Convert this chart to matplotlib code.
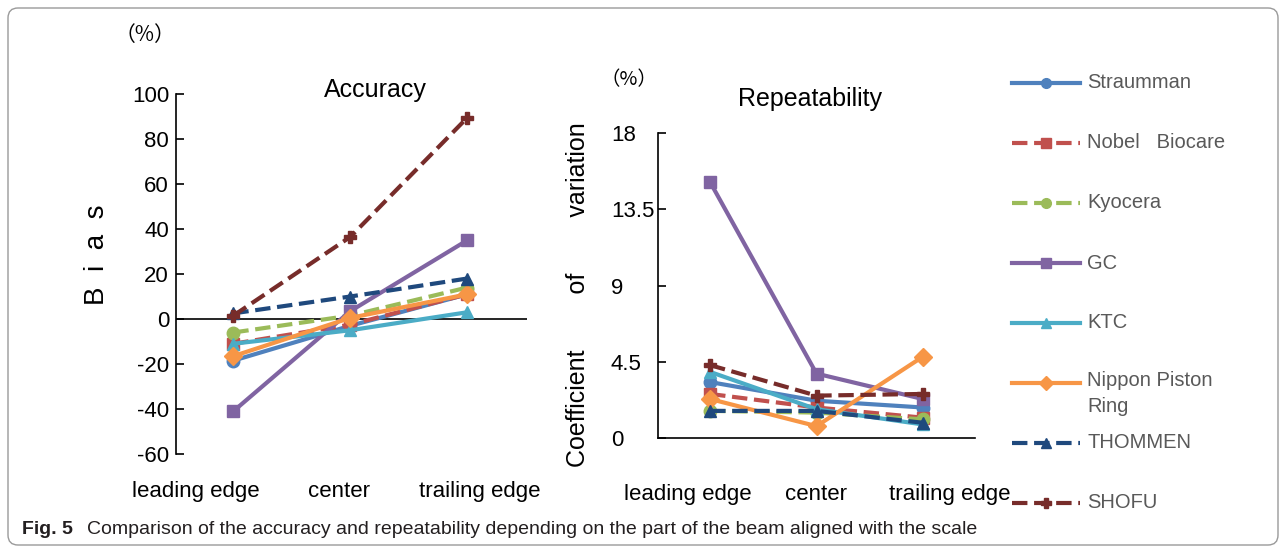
import matplotlib.pyplot as plt
from matplotlib.lines import Line2D
from matplotlib.patches import FancyBboxPatch
from matplotlib.transforms import blended_transform_factory

plt.rcParams['font.family'] = ['Liberation Sans', 'DejaVu Sans']
plt.rcParams['axes.unicode_minus'] = False

# data
positions = ['leading edge', 'center', 'trailing edge']
makers = ['Straumman', 'Nobel   Biocare', 'Kyocera', 'GC', 'KTC',
          'Nippon Piston\nRing', 'THOMMEN', 'SHOFU']

# bias (%) at leading edge / center / trailing edge
accuracy_bias = [
    [-18.5, -3, 11],    # Straumman
    [-11, -2.5, 11],    # Nobel Biocare
    [-6, 1.5, 14],      # Kyocera
    [-41, 3.5, 35],     # GC
    [-11, -5, 3],       # KTC
    [-16.5, 0.5, 11],   # Nippon Piston Ring
    [2.5, 10, 18],      # THOMMEN
    [1.5, 36.5, 89.5],  # SHOFU
]

# coefficient of variation (%)
repeat_cv = [
    [3.3, 2.2, 1.8],    # Straumman
    [2.6, 1.8, 1.2],    # Nobel Biocare
    [1.6, 1.5, 1.1],    # Kyocera
    [15.1, 3.8, 2.3],   # GC
    [3.9, 1.7, 0.8],    # KTC
    [2.3, 0.7, 4.8],    # Nippon Piston Ring
    [1.6, 1.6, 0.9],    # THOMMEN
    [4.3, 2.5, 2.6],    # SHOFU
]

colors = ['#4f81bd', '#c0504d', '#9bbb59', '#8064a2', '#4bacc6',
          '#f79646', '#1f497d', '#772c2a']
markers = ['o', 's', 'o', 's', '^', 'D', '^', 'P']
styles = ['-', '--', '--', '-', '-', '-', '--', '--']

W, H = 1285, 550
fig = plt.figure(figsize=(W / 100, H / 100), dpi=100)

x = [0, 1, 2]

# ---- Accuracy ----
ax1 = fig.add_axes([176 / W, 1 - 454 / H, (527 - 176) / W, (454 - 94) / H])
for i in range(len(makers)):
    ax1.plot(x, accuracy_bias[i], color=colors[i], marker=markers[i],
             ls=styles[i], lw=3, ms=9, zorder=3)
ax1.axhline(0, color='black', lw=1.2, zorder=1)
ax1.set_xlim(-0.49, 2.51)
ax1.set_ylim(-60, 100)
ax1.set_yticks(range(-60, 101, 20))
ax1.set_xticks([])
for s in ['top', 'right', 'bottom']:
    ax1.spines[s].set_visible(False)
ax1.spines['left'].set_linewidth(1.2)
ax1.tick_params(axis='y', direction='in', length=6, width=1.2, labelsize=16, pad=5)
tr1 = blended_transform_factory(ax1.transData, ax1.transAxes)
for xp, lab in zip([-0.32, 0.90, 2.11], positions):
    ax1.text(xp, -0.105, lab, transform=tr1, ha='center', va='center', fontsize=16)

fig.text(375 / W, 1 - 90 / H, 'Accuracy', ha='center', va='center', fontsize=18)
fig.text(97 / W, 1 - 255 / H, 'B  i  a  s', rotation=90, ha='center', va='center',
         fontsize=20)
fig.text(145 / W, 1 - 35 / H, '（%）', ha='center', va='center', fontsize=15,
         family=['Noto Sans CJK JP', 'DejaVu Sans'])

# ---- Repeatability ----
ax2 = fig.add_axes([658 / W, 1 - 438 / H, (975 - 658) / W, (438 - 133) / H])
for i in range(len(makers)):
    ax2.plot(x, repeat_cv[i], color=colors[i], marker=markers[i],
             ls=styles[i], lw=3, ms=9, zorder=3, clip_on=False)
ax2.set_xlim(-0.49, 2.49)
ax2.set_ylim(0, 18)
ax2.set_yticks([0, 4.5, 9, 13.5, 18])
ax2.set_yticklabels(['0', '4.5', '9', '13.5', '18'])
ax2.set_xticks([])
for s in ['top', 'right']:
    ax2.spines[s].set_visible(False)
ax2.spines['left'].set_linewidth(1.2)
ax2.spines['bottom'].set_linewidth(1.2)
ax2.tick_params(axis='y', direction='in', length=6, width=1.2, labelsize=16, pad=34)
for lab in ax2.get_yticklabels():
    lab.set_ha('left')
tr2 = blended_transform_factory(ax2.transData, ax2.transAxes)
for xp, lab in zip([-0.21, 1.0, 2.25], positions):
    ax2.text(xp, -0.184, lab, transform=tr2, ha='center', va='center', fontsize=16)

fig.text(810 / W, 1 - 99 / H, 'Repeatability', ha='center', va='center', fontsize=18)
fig.text(578 / W, 1 - 295 / H, 'Coefficient        of        variation', rotation=90,
         ha='center', va='center', fontsize=18)
fig.text(629 / W, 1 - 80 / H, '（%）', ha='center', va='center', fontsize=14,
         family=['Noto Sans CJK JP', 'DejaVu Sans'])

# ---- legend ----
for i, name in enumerate(makers):
    yf = 1 - (83 + 60 * i) / H
    fig.add_artist(Line2D([1012 / W, 1080 / W], [yf, yf], transform=fig.transFigure,
                          color=colors[i], ls=styles[i], lw=3))
    fig.add_artist(Line2D([1046 / W], [yf], transform=fig.transFigure,
                          color=colors[i], marker=markers[i], ms=7, lw=0))
    if '\n' in name:
        fig.text(1087 / W, yf + 12 / H, name, ha='left', va='top', fontsize=14.5,
                 color='#595959', linespacing=1.45)
    else:
        fig.text(1087 / W, yf, name, ha='left', va='center', fontsize=14.5,
                 color='#595959')

# ---- caption and frame ----
fig.text(22 / W, 1 - 530 / H, 'Fig. 5', ha='left', va='center', fontsize=14,
         weight='bold', color='#231f20')
fig.text(87 / W, 1 - 530 / H, 'Comparison of the accuracy and repeatability depending '
         'on the part of the beam aligned with the scale', ha='left', va='center',
         fontsize=14, color='#231f20')
fig.add_artist(FancyBboxPatch((8, 5), 1270, 537, boxstyle='round,pad=0,rounding_size=10',
                              transform=None, fill=False, ec='#9a9a9a', lw=1))

fig.savefig('out.png', dpi=100)
